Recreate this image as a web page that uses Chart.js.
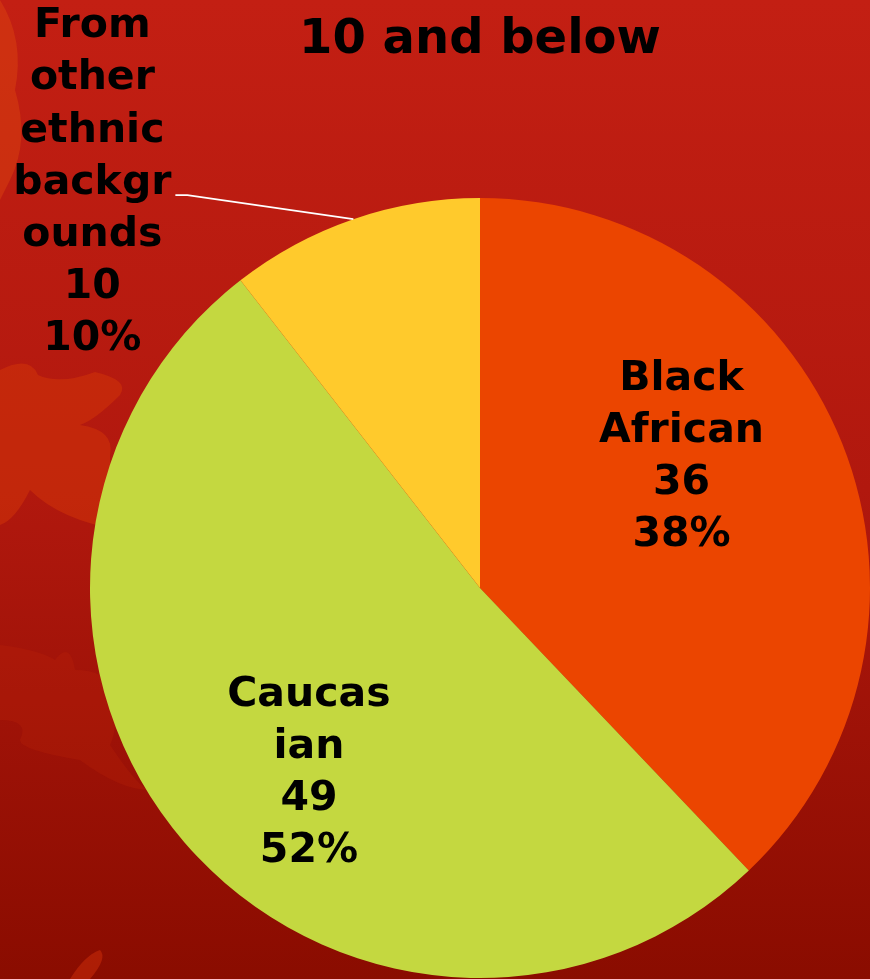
<!DOCTYPE html>
<html>
<head>
<meta charset="utf-8">
<script src="https://cdn.jsdelivr.net/npm/chart.js@4"></script>
<style>
  html, body { margin: 0; padding: 0; background: #b01a0f; }
  #wrap { width: 870px; height: 979px; position: relative; }
</style>
</head>
<body>
<div id="wrap"><canvas id="c" width="870" height="979"></canvas></div>
<script>
// ---- data ----
const titleText = "10 and below";
const categories = ["Black African", "Caucasian", "From other ethnic backgrounds"];
const labelLines = [["Black", "African"], ["Caucas", "ian"], ["From", "other", "ethnic", "backgr", "ounds"]];
const counts = [36, 49, 10];
const percentLabels = ["38%", "52%", "10%"];
const sliceColors = ["#EB4500", "#C4D840", "#FFCA2C"];

// label placement (fraction of radius along slice mid-angle, plus nudge)
const labelPlacement = [
  { frac: 0.62, dx: -23, dy: -41 },
  { frac: 0.65, dx: 21, dy: 20 },
  { frac: 1.0, dx: -261, dy: -36, leader: true }
];

const bgPlugin = {
  id: 'bg',
  beforeDraw(chart) {
    const ctx = chart.ctx, w = chart.width, h = chart.height;
    ctx.save();
    const g = ctx.createLinearGradient(0, 0, 0, h);
    g.addColorStop(0, '#C31F13');
    g.addColorStop(0.5, '#B1180E');
    g.addColorStop(1, '#8A0C00');
    ctx.fillStyle = g;
    ctx.fillRect(0, 0, w, h);
    // faint leaf shapes on the left edge
    ctx.globalAlpha = 0.5;
    ctx.fillStyle = '#D43508';
    ctx.beginPath();
    ctx.moveTo(0, 370);
    ctx.quadraticCurveTo(30, 355, 38, 375);
    ctx.quadraticCurveTo(60, 385, 95, 372);
    ctx.quadraticCurveTo(130, 380, 120, 395);
    ctx.quadraticCurveTo(95, 420, 80, 425);
    ctx.quadraticCurveTo(115, 430, 110, 455);
    ctx.quadraticCurveTo(110, 520, 120, 530);
    ctx.quadraticCurveTo(60, 520, 30, 490);
    ctx.quadraticCurveTo(15, 520, 0, 525);
    ctx.closePath();
    ctx.fill();
    ctx.globalAlpha = 0.22;
    ctx.fillStyle = '#C42A08';
    ctx.beginPath();
    ctx.moveTo(0, 645);
    ctx.quadraticCurveTo(40, 650, 55, 660);
    ctx.quadraticCurveTo(70, 640, 75, 670);
    ctx.quadraticCurveTo(105, 670, 115, 690);
    ctx.quadraticCurveTo(118, 730, 110, 745);
    ctx.quadraticCurveTo(140, 790, 150, 790);
    ctx.quadraticCurveTo(120, 790, 80, 760);
    ctx.quadraticCurveTo(20, 750, 20, 740);
    ctx.quadraticCurveTo(30, 720, 0, 720);
    ctx.closePath();
    ctx.fill();
    ctx.beginPath();
    ctx.moveTo(0, 0);
    ctx.quadraticCurveTo(25, 40, 15, 90);
    ctx.quadraticCurveTo(30, 140, 10, 180);
    ctx.quadraticCurveTo(0, 200, 0, 200);
    ctx.closePath();
    ctx.fillStyle = '#E04A0E';
    ctx.globalAlpha = 0.4;
    ctx.fill();
    ctx.beginPath();
    ctx.moveTo(70, 979);
    ctx.quadraticCurveTo(85, 955, 100, 950);
    ctx.quadraticCurveTo(108, 958, 90, 979);
    ctx.closePath();
    ctx.fillStyle = '#C42A08';
    ctx.globalAlpha = 0.6;
    ctx.fill();
    ctx.restore();
  }
};

const labelPlugin = {
  id: 'sliceLabels',
  afterDatasetsDraw(chart) {
    const ctx = chart.ctx;
    const meta = chart.getDatasetMeta(0);
    ctx.save();
    ctx.font = 'bold 41px "DejaVu Sans", Verdana, sans-serif';
    ctx.fillStyle = '#000';
    ctx.textAlign = 'center';
    ctx.textBaseline = 'middle';
    const lh = 52.2;
    meta.data.forEach((arc, i) => {
      const p = arc.getProps(['x', 'y', 'startAngle', 'endAngle', 'outerRadius'], true);
      const mid = (p.startAngle + p.endAngle) / 2;
      const pl = labelPlacement[i];
      const ax = p.x + Math.cos(mid) * p.outerRadius * pl.frac;
      const ay = p.y + Math.sin(mid) * p.outerRadius * pl.frac;
      const cx = ax + pl.dx, cy = ay + pl.dy;
      const lines = labelLines[i].concat([String(counts[i]), percentLabels[i]]);
      const top = cy - (lines.length - 1) * lh / 2;
      lines.forEach((t, k) => ctx.fillText(t, cx, top + k * lh));
      if (pl.leader) {
        const ey = top + 3 * lh + 12;
        ctx.strokeStyle = '#FFFFFF';
        ctx.lineWidth = 1.6;
        ctx.beginPath();
        ctx.moveTo(cx + 83, ey);
        ctx.lineTo(cx + 95, ey);
        ctx.lineTo(ax, ay);
        ctx.stroke();
      }
    });
    ctx.restore();
  }
};

new Chart(document.getElementById('c'), {
  type: 'pie',
  data: {
    labels: categories,
    datasets: [{
      data: counts,
      backgroundColor: sliceColors,
      borderWidth: 0
    }]
  },
  options: {
    responsive: false,
    animation: false,
    layout: { padding: { left: 90, right: 0, top: 0, bottom: 1 } },
    plugins: {
      legend: { display: false },
      tooltip: { enabled: false },
      title: {
        display: true,
        text: titleText,
        color: '#000',
        font: { family: '"DejaVu Sans", Verdana, sans-serif', size: 48, weight: 'bold', lineHeight: 1.2 },
        padding: { top: 12, bottom: 128.4 }
      }
    }
  },
  plugins: [bgPlugin, labelPlugin]
});
</script>
</body>
</html>
